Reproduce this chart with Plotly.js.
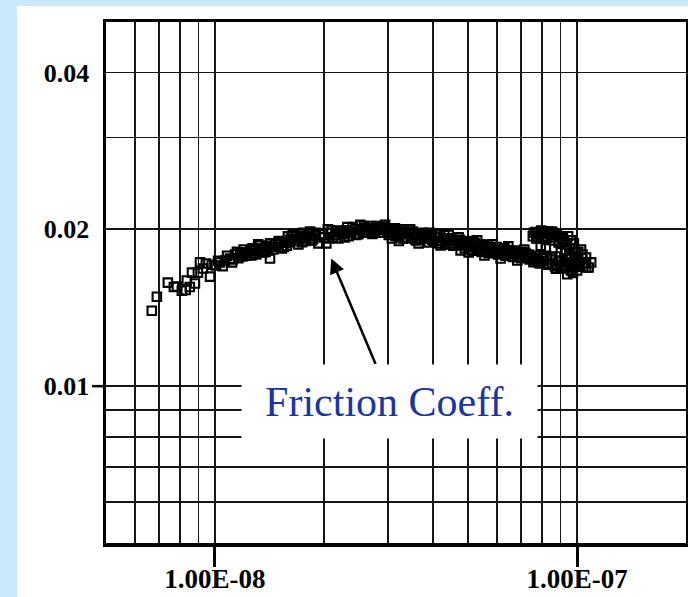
<!DOCTYPE html>
<html>
<head>
<meta charset="utf-8">
<script src="https://cdn.plot.ly/plotly-3.0.1.min.js"></script>
<style>
html,body{margin:0;padding:0;background:#cce8fb;width:688px;height:597px;overflow:hidden;}
#chart{position:absolute;left:17px;top:6px;width:671px;height:591px;background:#fff;}
</style>
</head>
<body>
<div id="chart"></div>
<script>
// Sliding speed (x) and friction coefficient (y)
const speed = [
6.69e-9,6.91e-9,7.41e-9,7.70e-9,7.85e-9,8.10e-9,8.30e-9,8.36e-9,8.52e-9,8.64e-9,
8.80e-9,8.97e-9,9.09e-9,9.26e-9,9.44e-9,9.69e-9,9.80e-9,1.006e-8,1.032e-8,1.066e-8,
1.10e-8,1.115e-8,1.136e-8,1.173e-8,1.19e-8,1.211e-8,1.25e-8,1.26e-8,1.291e-8,1.316e-8,
1.332e-8,1.36e-8,1.384e-8,1.40e-8,1.419e-8,1.43e-8,1.495e-8,1.53e-8,1.563e-8,1.59e-8,
1.614e-8,1.666e-8,1.70e-8,1.72e-8,1.75e-8,1.776e-8,1.833e-8,1.855e-8,1.893e-8,1.93e-8,
1.98e-8,2.03e-8,2.06e-8,2.083e-8,2.15e-8,2.19e-8,2.22e-8,2.292e-8,2.34e-8,2.366e-8,
2.443e-8,2.49e-8,2.522e-8,2.604e-8,2.65e-8,2.688e-8,2.775e-8,2.83e-8,2.865e-8,2.93e-8,
2.958e-8,3.054e-8,3.11e-8,3.153e-8,3.22e-8,3.255e-8,3.32e-8,3.36e-8,3.42e-8,3.50e-8,
3.60e-8,3.65e-8,3.697e-8,3.817e-8,3.89e-8,3.94e-8,4.03e-8,4.12e-8,4.20e-8,4.25e-8,
4.36e-8,4.42e-8,4.476e-8,4.62e-8,4.71e-8,4.77e-8,4.83e-8,4.96e-8,5.02e-8,5.08e-8,
5.22e-8,5.30e-8,5.35e-8,5.48e-8,5.55e-8,5.63e-8,5.77e-8,5.85e-8,5.92e-8,6.08e-8,
6.15e-8,6.23e-8,6.39e-8,6.46e-8,6.56e-8,6.73e-8,6.84e-8,6.90e-8,7.08e-8,7.15e-8,
7.26e-8,7.36e-8,7.46e-8,7.55e-8,7.64e-8,7.69e-8,7.84e-8,7.84e-8,7.94e-8,8.00e-8,
8.05e-8,8.15e-8,8.20e-8,8.25e-8,8.31e-8,8.47e-8,8.47e-8,8.63e-8,8.69e-8,8.74e-8,
8.80e-8,8.90e-8,8.90e-8,9.02e-8,9.14e-8,9.14e-8,9.32e-8,9.38e-8,9.38e-8,9.62e-8,
9.62e-8,9.62e-8,9.80e-8,9.80e-8,9.93e-8,1.00e-7,1.018e-7,1.026e-7,1.04e-7,1.059e-7,
1.077e-7,1.094e-7,
1.95e-8,2.00e-8,2.10e-8,2.12e-8,2.25e-8,2.28e-8,2.40e-8,2.45e-8,2.56e-8,2.58e-8,
2.70e-8,2.72e-8,2.80e-8,2.90e-8,3.00e-8,3.02e-8,3.08e-8,3.18e-8,3.30e-8,3.38e-8,
3.46e-8,3.55e-8,3.58e-8,3.70e-8,3.75e-8,3.85e-8,3.98e-8,4.08e-8,4.15e-8,4.30e-8,
4.33e-8,4.50e-8,4.55e-8,4.66e-8,4.80e-8,4.90e-8,5.00e-8,5.12e-8,5.15e-8,5.28e-8,
5.40e-8,5.45e-8,5.60e-8,5.70e-8,5.80e-8,6.00e-8,6.05e-8,6.30e-8,6.35e-8,6.50e-8,
6.65e-8,6.78e-8,6.95e-8,7.00e-8,7.20e-8,7.30e-8,7.50e-8,7.58e-8,7.75e-8,7.78e-8,
7.90e-8,8.08e-8,8.10e-8,8.35e-8,8.40e-8,8.55e-8,8.58e-8,8.85e-8,9.05e-8,9.10e-8,
9.25e-8,9.50e-8,9.55e-8,9.70e-8,9.88e-8,1.01e-7,1.03e-7,1.05e-7,
1.16e-8,1.22e-8,1.28e-8,1.34e-8,1.37e-8,1.45e-8,1.47e-8,1.52e-8,1.58e-8,1.62e-8,
1.68e-8,1.74e-8,1.80e-8,1.87e-8,
1.02e-8,1.05e-8,1.08e-8,1.12e-8,1.15e-8,1.18e-8,1.20e-8,1.23e-8,1.27e-8,1.30e-8,
1.33e-8,1.38e-8,1.42e-8,1.46e-8,1.50e-8,1.55e-8,1.60e-8,1.64e-8,1.72e-8,1.78e-8,
1.83e-8,1.90e-8,
2.05e-8,2.17e-8,2.32e-8,2.38e-8,2.52e-8,2.62e-8,2.76e-8,2.95e-8,3.05e-8,3.14e-8,
3.26e-8,3.40e-8,3.52e-8,3.62e-8,3.78e-8,3.92e-8,4.05e-8,4.18e-8,4.40e-8,4.58e-8,
4.74e-8,4.92e-8,
5.05e-8,5.18e-8,5.32e-8,5.52e-8,5.66e-8,5.88e-8,6.02e-8,6.20e-8,6.42e-8,6.60e-8,
6.88e-8,7.05e-8,7.25e-8,7.40e-8,
7.60e-8,7.72e-8,7.96e-8,8.12e-8,8.28e-8,8.52e-8,8.68e-8,8.95e-8,9.20e-8,9.45e-8,
7.70e-8,7.98e-8,8.22e-8,8.45e-8,8.75e-8,9.00e-8,9.30e-8,9.58e-8,9.85e-8,1.008e-7,
1.035e-7,1.06e-7,9.40e-8,9.75e-8
];
const friction = [
0.01396,0.01485,0.0158,0.0155,0.01553,0.01525,0.0153,0.01595,0.0155,0.01652,
0.01574,0.01652,0.01728,0.01682,0.0172,0.01623,0.0171,0.01705,0.01728,0.01743,
0.01758,0.01728,0.0179,0.0180,0.01774,0.01806,0.01822,0.01782,0.01822,0.01871,
0.01838,0.01806,0.0186,0.01822,0.01758,0.0185,0.01871,0.01838,0.01888,0.0194,
0.01905,0.019,0.01871,0.01922,0.0197,0.0193,0.0194,0.01905,0.0195,0.0188,
0.01957,0.0188,0.01922,0.0197,0.0195,0.01922,0.01975,0.01992,0.0194,0.0198,
0.0200,0.01957,0.01992,0.0201,0.0197,0.0200,0.0201,0.0197,0.0200,0.0197,
0.0200,0.0197,0.0200,0.0194,0.019,0.01957,0.0198,0.01922,0.0197,0.0193,
0.01905,0.0188,0.0195,0.01922,0.01888,0.0194,0.019,0.0193,0.01863,0.019,
0.01922,0.0195,0.0188,0.01905,0.0193,0.01822,0.01863,0.01888,0.01806,0.0185,
0.0188,0.01905,0.0183,0.01855,0.01782,0.01814,0.01838,0.01871,0.01806,0.0183,
0.01758,0.018,0.01822,0.01855,0.0179,0.01806,0.01743,0.01774,0.018,0.0183,
0.01774,0.0179,0.01758,0.0194,0.01743,0.01975,0.01922,0.01728,0.0186,0.01966,
0.01766,0.0194,0.01838,0.0171,0.0198,0.0195,0.0175,0.01905,0.01697,0.01774,
0.01957,0.01888,0.01735,0.01806,0.01922,0.01682,0.01822,0.01871,0.01728,0.01905,
0.01774,0.01667,0.0188,0.01705,0.01806,0.01667,0.01728,0.0183,0.01697,0.01766,
0.0169,0.01728,
0.0196,0.0193,0.0199,0.0193,0.0196,0.0193,0.0202,0.0195,0.0197,0.0203,
0.0203,0.0196,0.0203,0.0202,0.0201,0.0195,0.0192,0.0198,0.0192,0.0196,
0.0200,0.0196,0.0191,0.0192,0.0197,0.0195,0.0191,0.0196,0.0188,0.0195,
0.0187,0.0192,0.0186,0.0190,0.0188,0.0184,0.0190,0.0186,0.0182,0.0184,
0.0187,0.0181,0.0185,0.0180,0.0183,0.0185,0.0179,0.0184,0.0178,0.0182,
0.0177,0.0182,0.0179,0.0176,0.0180,0.0177,0.0177,0.0173,0.0175,0.0196,
0.0172,0.0192,0.0174,0.0172,0.0196,0.0171,0.0197,0.0171,0.0174,0.0191,
0.0170,0.0172,0.0184,0.0169,0.0172,0.0170,0.0176,0.0172,
0.0176,0.0178,0.0180,0.0182,0.0184,0.0183,0.0187,0.0189,0.0186,0.0192,
0.0194,0.0189,0.0196,0.0192,
0.0174,0.0170,0.0178,0.0175,0.0181,0.0179,0.0183,0.0180,0.0184,0.0179,
0.0186,0.0181,0.0188,0.0185,0.0190,0.0185,0.0189,0.0195,0.0196,0.0190,
0.0198,0.0197,
0.0200,0.0199,0.0202,0.0197,0.0204,0.0199,0.0199,0.0204,0.0199,0.0201,
0.0200,0.0193,0.0198,0.0194,0.0193,0.0197,0.0193,0.0195,0.0190,0.0188,
0.0191,0.0187,
0.0183,0.0189,0.0186,0.0184,0.0187,0.0181,0.0182,0.0183,0.0180,0.0180,
0.0177,0.0181,0.0179,0.0175,
0.0197,0.0192,0.0199,0.0197,0.0193,0.0198,0.0193,0.0194,0.0189,0.0194,
0.0178,0.0176,0.0178,0.0177,0.0168,0.0169,0.0176,0.0179,0.0176,0.0181,
0.0179,0.0169,0.0164,0.0165
];

// Axis ticks and grid
const xTickVals = [1e-8, 1e-7];
const xTickText = ['1.00E-08', '1.00E-07'];
const xGridVals = [6e-9,7e-9,8e-9,9e-9,2e-8,3e-8,4e-8,5e-8,6e-8,7e-8,8e-8,9e-8];
const yTickVals = [0.01, 0.02, 0.04];
const yTickText = ['0.01', '0.02', '0.04'];
const yGridVals = [0.006,0.007,0.008,0.009,0.03];
const xRange = [5e-9, 2e-7];
const yRange = [0.005, 0.05];
const labelText = 'Friction Coeff.';

const serif = 'Liberation Serif, Times New Roman, serif';
const gridColor = '#151515';

// fraction of the plot height where the marked y tick (0.01) sits
const yTickFrac = Math.log10(yTickVals[0] / yRange[0]) / Math.log10(yRange[1] / yRange[0]);

const traces = [
  {
    type: 'scatter', mode: 'markers', x: speed, y: friction,
    marker: {symbol: 'square-open', size: 8.5, color: '#000', line: {width: 2.1, color: '#000'}},
    hoverinfo: 'skip', showlegend: false
  }
];

const layout = {
  width: 671, height: 591,
  margin: {l: 89, r: 2, t: 16, b: 54},
  paper_bgcolor: '#ffffff', plot_bgcolor: '#ffffff',
  showlegend: false,
  xaxis: {
    type: 'log',
    range: [Math.log10(xRange[0]), Math.log10(xRange[1])],
    tickmode: 'array', tickvals: xTickVals, ticktext: xTickText,
    ticks: 'outside', ticklen: 20, tickwidth: 3, tickcolor: '#000',
    ticklabelstandoff: -11,
    tickfont: {family: serif, size: 27, color: '#000', weight: 'bold'},
    showgrid: true, gridcolor: gridColor, gridwidth: 1.8,
    minor: {tickmode: 'array', tickvals: xGridVals, showgrid: true, gridcolor: gridColor, gridwidth: 1.8, ticks: ''},
    showline: true, linecolor: '#000', linewidth: 3.5, mirror: true,
    zeroline: false, fixedrange: true
  },
  yaxis: {
    type: 'log',
    range: [Math.log10(yRange[0]), Math.log10(yRange[1])],
    tickmode: 'array', tickvals: yTickVals, ticktext: yTickText,
    ticks: '', ticklabelstandoff: 8,
    tickfont: {family: serif, size: 26, color: '#000', weight: 'bold'},
    showgrid: true, gridcolor: gridColor, gridwidth: 1.8,
    minor: {tickmode: 'array', tickvals: yGridVals, showgrid: true, gridcolor: gridColor, gridwidth: 1.8, ticks: ''},
    showline: true, linecolor: '#000', linewidth: 3.5, mirror: true,
    zeroline: false, fixedrange: true
  },
  shapes: [
    {
      type: 'line', xref: 'paper', yref: 'paper',
      x0: -0.024, x1: 0, y0: yTickFrac, y1: yTickFrac,
      line: {color: '#000', width: 2.5}
    }
  ],
  annotations: [
    {
      xref: 'x', yref: 'y',
      x: -7.679, y: -1.7548,
      ax: 45, ay: 107, axref: 'pixel', ayref: 'pixel',
      text: '', showarrow: true,
      arrowhead: 2, arrowsize: 1.2, arrowwidth: 2.5, arrowcolor: '#000',
      standoff: 0
    },
    {
      xref: 'paper', yref: 'paper', x: 0.489, y: 0.2716,
      xanchor: 'center', yanchor: 'middle',
      text: labelText, showarrow: false,
      width: 295, height: 73, borderpad: 0,
      bgcolor: '#ffffff',
      font: {family: serif, size: 42, color: '#1b36a3'}
    }
  ]
};

Plotly.newPlot('chart', traces, layout, {displayModeBar: false, staticPlot: true});
</script>
</body>
</html>
